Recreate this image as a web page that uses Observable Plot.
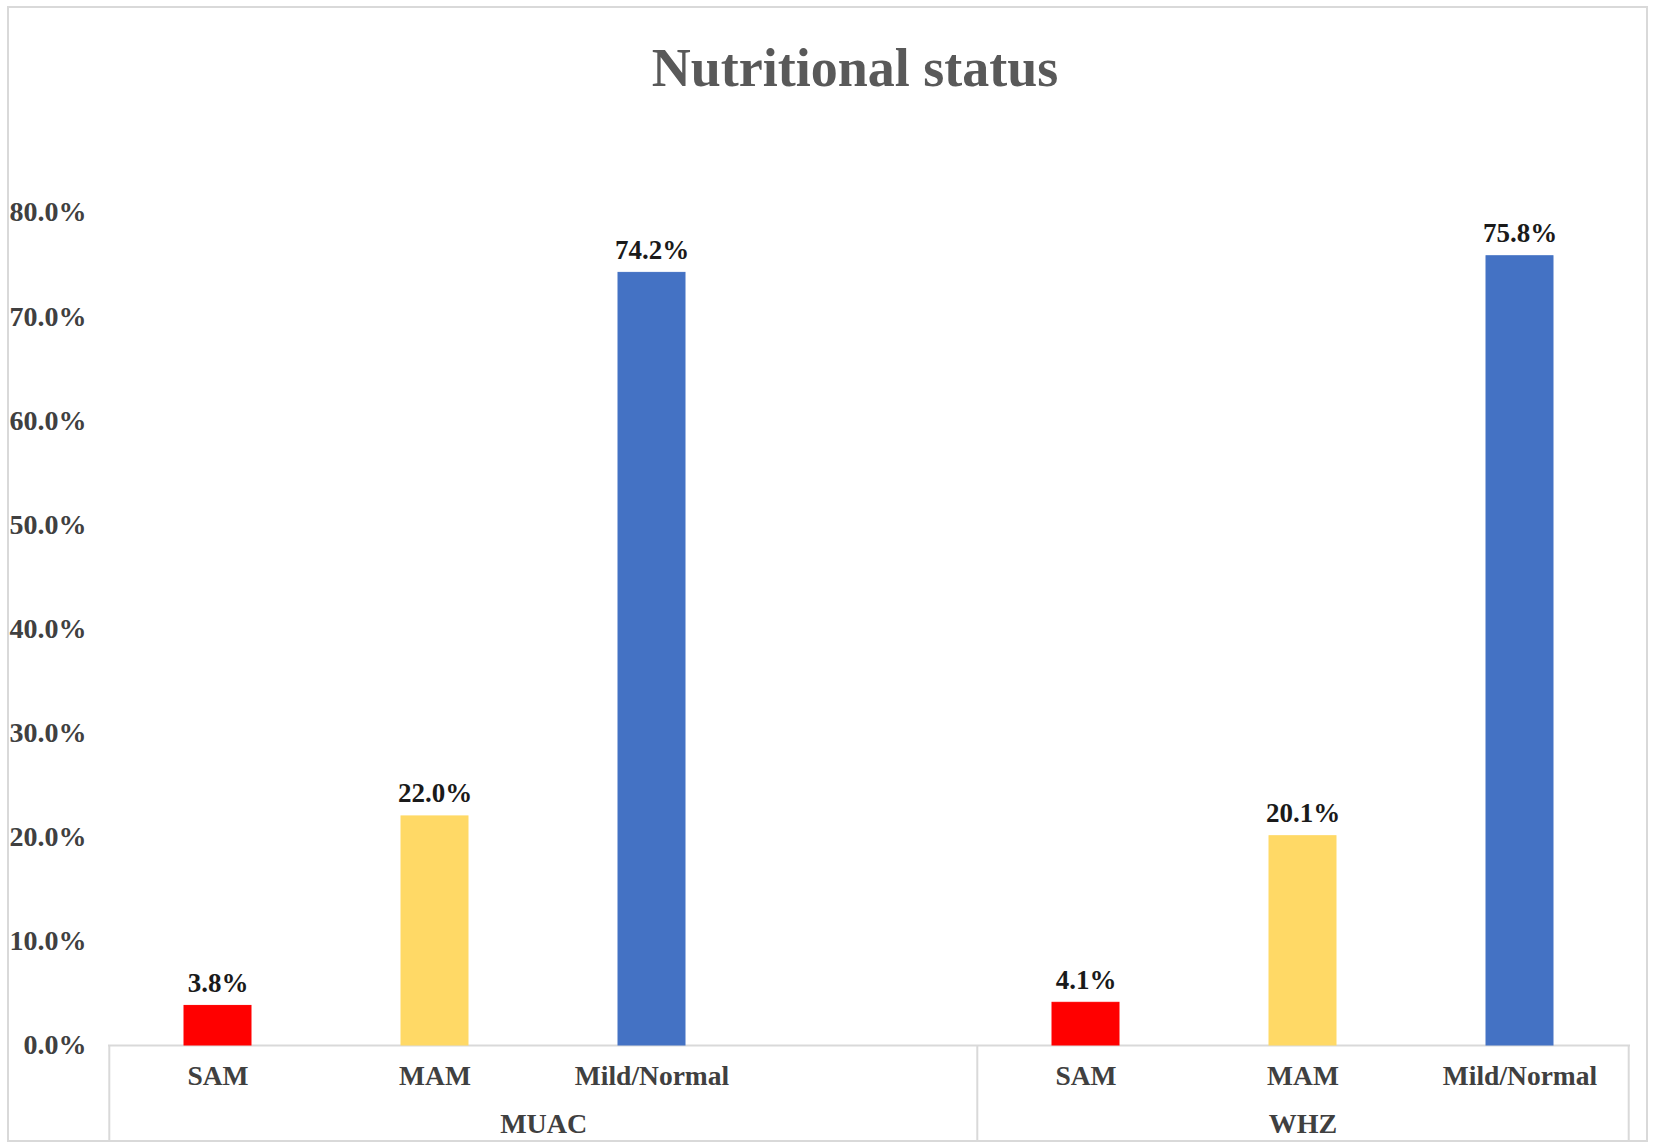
<!DOCTYPE html>
<html>
<head>
<meta charset="utf-8">
<script src="https://cdn.jsdelivr.net/npm/d3@7"></script>
<script src="https://cdn.jsdelivr.net/npm/@observablehq/plot@0.6"></script>
<style>
  html, body { margin: 0; padding: 0; background: #ffffff; }
  #wrap { position: relative; width: 1654px; height: 1148px; overflow: hidden; }
  #frame { position: absolute; left: 7px; top: 6px; width: 1637px; height: 1132px; border: 2px solid #d9d9d9; box-sizing: content-box; pointer-events: none; }
  #title { position: absolute; left: 0; width: 1710px; top: 36px; text-align: center;
           font-family: "Liberation Serif", "Times New Roman", serif; font-weight: bold;
           font-size: 54px; color: #595959; line-height: 64px; }
  #chart { position: absolute; left: 0; top: 0; }
</style>
</head>
<body>
<div id="wrap">
  <div id="chart"></div>
  <div id="frame"></div>
  <div id="title">Nutritional status</div>
</div>
<script>
// ---- data ----
const groups = ["MUAC", "WHZ"];
const statuses = ["SAM", "MAM", "Mild/Normal"];
const muacValues = [3.8, 22.0, 74.2];
const whzValues = [4.1, 20.1, 75.8];
const statusColors = ["#FF0000", "#FFD966", "#4472C4"];
const yTicks = [0, 10, 20, 30, 40, 50, 60, 70, 80];

// category slots (MUAC group carries one empty slot, as in the original)
const groupMembers = {
  MUAC: ["MUAC|SAM", "MUAC|MAM", "MUAC|Mild/Normal", "MUAC|"],
  WHZ: ["WHZ|SAM", "WHZ|MAM", "WHZ|Mild/Normal"]
};
const domainX = [...groupMembers.MUAC, ...groupMembers.WHZ];

const rows = [];
statuses.forEach((s, i) => rows.push({key: "MUAC|" + s, status: s, value: muacValues[i]}));
statuses.forEach((s, i) => rows.push({key: "WHZ|" + s, status: s, value: whzValues[i]}));

// ---- layout ----
const W = 1654, H = 1148;
const mL = 108, mR = 24, mT = 212, mB = 103;
const yMax = 80;
const step = (W - mL - mR) / domainX.length;
const plotH = H - mT - mB;
const boxDepth = 95;               // depth of category box below the baseline (px)
const yBox = -boxDepth / plotH * yMax;

const groupLabels = groups.map(g => {
  const m = groupMembers[g];
  const mid = m[Math.floor((m.length - 1) / 2)];
  return {group: g, key: mid, dx: m.length % 2 === 0 ? step / 2 : 0};
});

const dividers = [
  {key: groupMembers.MUAC[0], dx: -step / 2},
  {key: groupMembers.WHZ[0], dx: -step / 2},
  {key: groupMembers.WHZ[groupMembers.WHZ.length - 1], dx: step / 2}
];

const font = "'Liberation Serif', 'Times New Roman', serif";

const plot = Plot.plot({
  width: W,
  height: H,
  marginLeft: mL,
  marginRight: mR,
  marginTop: mT,
  marginBottom: mB,
  style: {fontFamily: font, fontWeight: "bold", fontSize: "27px", color: "#404040", background: "transparent", overflow: "visible"},
  x: {domain: domainX, paddingInner: 0.69, paddingOuter: 0.345, axis: null, label: null},
  y: {domain: [0, yMax], axis: null, label: null},
  color: {domain: statuses, range: statusColors},
  marks: [
    Plot.ruleY([0], {stroke: "#d9d9d9", strokeWidth: 2}),
    ...dividers.map(d => Plot.ruleX([d.key], {x: k => k, y1: 0, y2: yBox, dx: d.dx, stroke: "#d9d9d9", strokeWidth: 2})),
    Plot.barY(rows, {x: "key", y: "value", fill: "status", stroke: "status", strokeWidth: 1}),
    Plot.text(rows, {x: "key", y: "value", text: d => d.value.toFixed(1) + "%", lineAnchor: "bottom", dy: -14,
      fill: "#1a1a1a", fontSize: 27, fontWeight: "bold", fontFamily: font}),
    Plot.axisY({ticks: yTicks, tickSize: 0, tickPadding: 22, tickFormat: d => d.toFixed(1) + "%", label: null,
      fontSize: 28, fontWeight: "bold", fill: "#404040", fontFamily: font}),
    Plot.axisX({tickSize: 0, tickPadding: 20, tickFormat: k => k.split("|")[1], label: null,
      fontSize: 27.5, fontWeight: "bold", fill: "#404040", fontFamily: font}),
    ...groupLabels.map(g => Plot.text([g], {x: "key", frameAnchor: "bottom", text: "group", dy: 79, dx: g.dx,
      lineAnchor: "middle", fontSize: 28, fontWeight: "bold", fill: "#404040", fontFamily: font}))
  ]
});
document.getElementById("chart").appendChild(plot);
</script>
</body>
</html>
